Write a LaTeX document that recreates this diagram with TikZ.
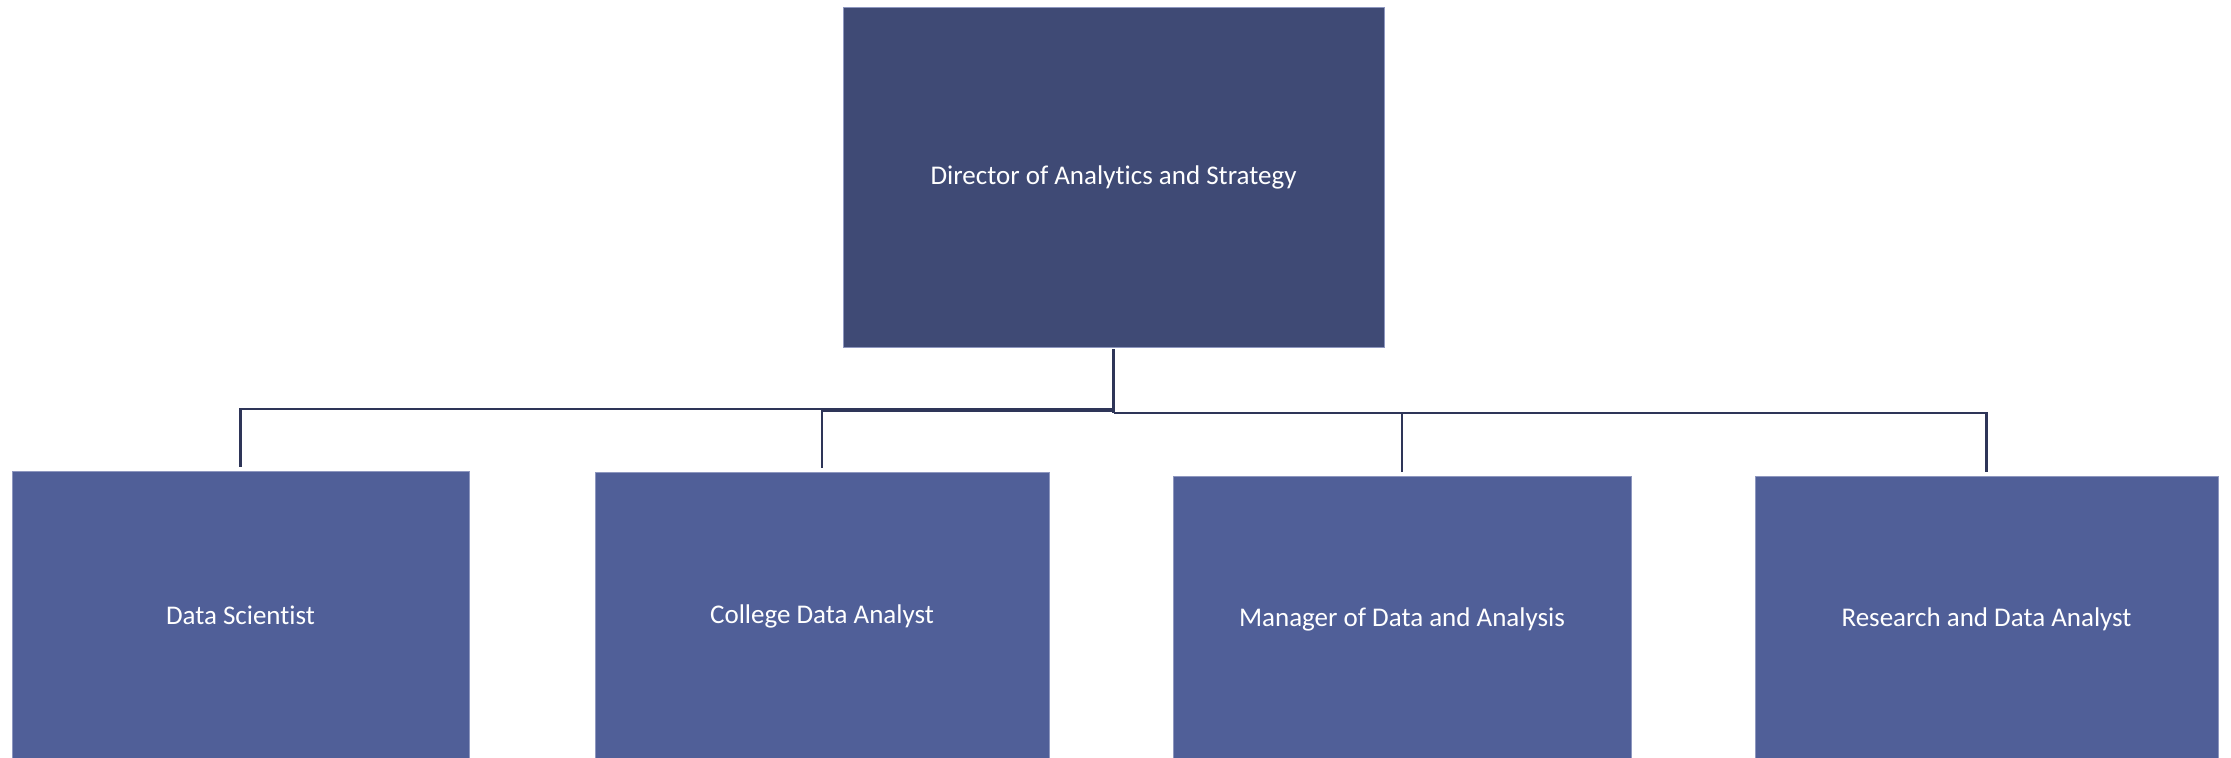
\documentclass[tikz,border=0pt]{standalone}
\usepackage{fontspec}
\setmainfont[Ligatures=NoCommon]{Carlito}
\definecolor{topfill}{HTML}{3F4A75}
\definecolor{subfill}{HTML}{505F98}
\definecolor{edge}{HTML}{8E97BF}
\definecolor{linkc}{HTML}{2E3558}
\begin{document}
\begin{tikzpicture}[x=0.5pt,y=-0.5pt,
  box/.style={rectangle,draw=edge,line width=0.4pt,inner sep=0pt,text=white,
    font=\fontsize{13.5}{16}\selectfont},
  topbox/.style={box,fill=topfill},
  subbox/.style={box,fill=subfill},
  conn/.style={draw=linkc,line width=1.3pt,shorten >=2pt},
  trunk/.style={draw=linkc,line width=1.6pt}]
\useasboundingbox (0,0) rectangle (2231,757);
\clip (0,0) rectangle (2231,757);
\node[topbox,minimum width=270.5pt,minimum height=170pt] (top) at (1113.5,177) {Director of Analytics and Strategy};
\node[subbox,minimum width=228.5pt,minimum height=144pt] (b1) at (240.5,615) {Data Scientist};
\node[subbox,minimum width=227pt,minimum height=144pt] (b2) at (822,616) {College Data Analyst};
\node[subbox,minimum width=229pt,minimum height=143pt] (b3) at (1402,619) {Manager of Data and Analysis};
\node[subbox,minimum width=231.5pt,minimum height=143pt] (b4) at (1986.5,619) {Research and Data Analyst};
\coordinate (j1) at (1113.5,409);
\coordinate (j2) at (1113.5,411);
\coordinate (j3) at (1113.5,413);
\draw[conn] (j1) -| (b1.north);
\draw[conn] (j2) -| (b2.north);
\draw[conn] (j3) -| (b3.north);
\draw[conn] (j3) -| (b4.north);
\draw[trunk] ([yshift=-1pt]top.south) -- (j3);
\end{tikzpicture}
\end{document}
